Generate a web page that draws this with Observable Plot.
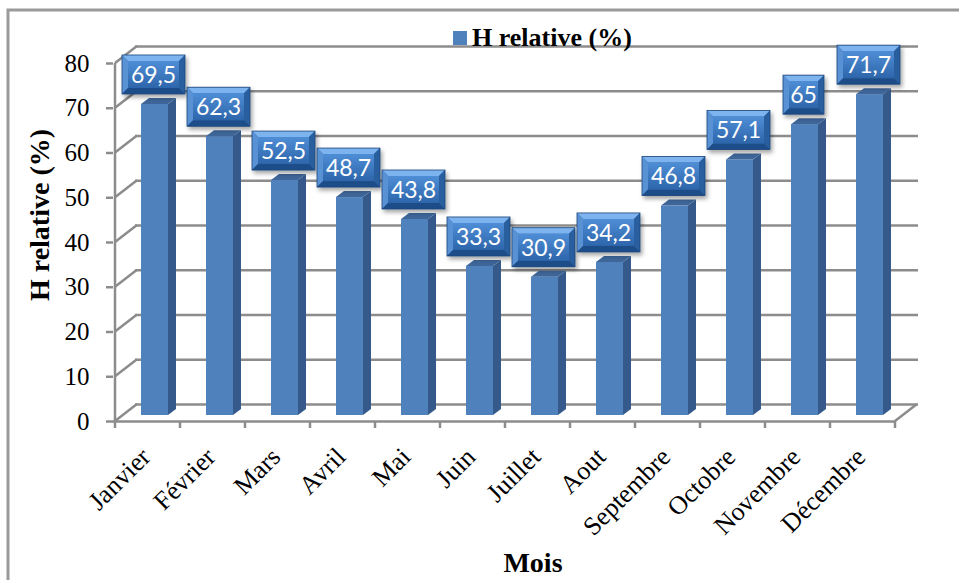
<!DOCTYPE html>
<html><head><meta charset="utf-8">
<script src="https://cdn.jsdelivr.net/npm/d3@7"></script>
<script src="https://cdn.jsdelivr.net/npm/@observablehq/plot@0.6"></script>
<style>body{margin:0;background:#fff} svg{display:block}</style>
</head><body><div id="chart"></div>
<script>
const months = ["Janvier","Février","Mars","Avril","Mai","Juin","Juillet","Aout","Septembre","Octobre","Novembre","Décembre"];
const humidity = [69.5,62.3,52.5,48.7,43.8,33.3,30.9,34.2,46.8,57.1,65,71.7];
const valueLabels = ["69,5","62,3","52,5","48,7","43,8","33,3","30,9","34,2","46,8","57,1","65","71,7"];
const yTicks = [0,10,20,30,40,50,60,70,80];
const seriesName = "H relative (%)";
const xTitle = "Mois";
const yTitle = "H relative (%)";

const data = months.map((m,i)=>({month:m, value:humidity[i], label:valueLabels[i]}));

const BACK=[22,-17], PLANE=[7,-6], DEPTH=[8,-6];
const GRID="#8c8c8c", SERIF="Liberation Serif, Times New Roman, serif";
const FRONT="#4F81BD", SIDE="#34598A", TOP="#3E6699";

const plot = Plot.plot({
  width:959, height:580,
  marginLeft:113, marginRight:63, marginTop:63, marginBottom:159,
  style:{background:"#fff", overflow:"visible"},
  x:{type:"band", domain:months, padding:0, axis:null},
  y:{domain:[0,80], axis:null},
  marks:[
    Plot.ruleY(yTicks,{dx:BACK[0],dy:BACK[1],stroke:GRID,strokeWidth:2.5}),
    Plot.ruleY([0],{stroke:GRID,strokeWidth:2.5}),
    Plot.barY(data,{x:"month",y:"value",fill:FRONT,insetLeft:19,insetRight:19,dx:PLANE[0],dy:PLANE[1]}),
    Plot.axisY({ticks:yTicks, tickSize:7, tickPadding:17, stroke:GRID, strokeWidth:2.5, fill:"#000", fontSize:25, fontFamily:SERIF, tickFormat:d=>String(d), label:null}),
    Plot.text(data,{x:"month", frameAnchor:"bottom", text:"month", rotate:-45, textAnchor:"end", dx:4, dy:37, fontSize:26, fontFamily:SERIF, fill:"#000"})
  ]
});
document.getElementById("chart").appendChild(plot);

const svg = d3.select(plot);
const sx = plot.scale("x"), sy = plot.scale("y");
const X = v => sx.apply(v), Y = v => sy.apply(v);
const bw = sx.bandwidth;
const x0 = X(months[0]), x1 = X(months[months.length-1]) + bw;
const y0 = Y(0);

const defs = svg.append("defs");
const g2 = defs.append("linearGradient").attr("id","face").attr("x1",0).attr("y1",0).attr("x2",0).attr("y2",1);
g2.append("stop").attr("offset",0).attr("stop-color","#4f8ed6");
g2.append("stop").attr("offset",1).attr("stop-color","#2d65ab");
const f = defs.append("filter").attr("id","shadow").attr("x","-20%").attr("y","-20%").attr("width","150%").attr("height","160%");
f.append("feDropShadow").attr("dx",2).attr("dy",3).attr("stdDeviation",2).attr("flood-color","#000").attr("flood-opacity",0.35);

const axes = svg.append("g").attr("stroke",GRID).attr("stroke-width",2.5).attr("fill","none");
axes.append("line").attr("x1",x0).attr("x2",x0).attr("y1",Y(80)).attr("y2",y0);
yTicks.forEach(t=>axes.append("line").attr("x1",x0).attr("y1",Y(t)).attr("x2",x0+BACK[0]).attr("y2",Y(t)+BACK[1]));
axes.append("line").attr("x1",x1).attr("y1",y0).attr("x2",x1+BACK[0]).attr("y2",y0+BACK[1]);
d3.range(months.length+1).forEach(k=>{
  const xx = k<months.length ? X(months[k]) : x1;
  axes.append("line").attr("x1",xx).attr("x2",xx).attr("y1",y0).attr("y2",y0+7);
});

const bars = svg.append("g");
data.forEach(d=>{
  const xl = X(d.month)+19+PLANE[0], xr = X(d.month)+bw-19+PLANE[0];
  const yt = Y(d.value)+PLANE[1], yb = y0+PLANE[1];
  bars.append("polygon").attr("fill",SIDE)
    .attr("points",[[xr,yt],[xr+DEPTH[0],yt+DEPTH[1]],[xr+DEPTH[0],yb+DEPTH[1]],[xr,yb]].join(" "));
  bars.append("polygon").attr("fill",TOP)
    .attr("points",[[xl,yt],[xr,yt],[xr+DEPTH[0],yt+DEPTH[1]],[xl+DEPTH[0],yt+DEPTH[1]]].join(" "));
});

const labels = svg.append("g");
data.forEach(d=>{
  const cx = X(d.month)+bw/2+PLANE[0]-1;
  const yt = Y(d.value)+PLANE[1];
  const w = 11*d.label.length+19, h = 39, b = 6;
  const bx = cx-w/2, by = yt-10-h;
  const g = labels.append("g").attr("filter","url(#shadow)");
  g.append("rect").attr("x",bx).attr("y",by).attr("width",w).attr("height",h).attr("fill","#2f64a6");
  const P = (pts,c)=>g.append("polygon").attr("fill",c).attr("points",pts.map(p=>p.join(",")).join(" "));
  P([[bx,by],[bx+w,by],[bx+w-b,by+b],[bx+b,by+b]],"#7db3ee");
  P([[bx,by],[bx+b,by+b],[bx+b,by+h-b],[bx,by+h]],"#5891d4");
  P([[bx+w,by],[bx+w,by+h],[bx+w-b,by+h-b],[bx+w-b,by+b]],"#2b5e9f");
  P([[bx,by+h],[bx+b,by+h-b],[bx+w-b,by+h-b],[bx+w,by+h]],"#1f4d88");
  g.append("rect").attr("x",bx+b).attr("y",by+b).attr("width",w-2*b).attr("height",h-2*b).attr("fill","url(#face)");
  g.append("rect").attr("x",bx).attr("y",by).attr("width",w).attr("height",h).attr("fill","none").attr("stroke","#1d477c").attr("stroke-width",0.8);
  labels.append("text").attr("x",cx).attr("y",by+h/2).attr("dy","0.36em").attr("text-anchor","middle")
    .attr("fill","#fff").attr("font-family","Lato, Carlito, sans-serif").attr("font-size",23).text(d.label);
});

// legend
svg.append("rect").attr("x",453).attr("y",31).attr("width",14).attr("height",14).attr("fill",FRONT);
svg.append("text").attr("x",472).attr("y",46).attr("text-anchor","start").attr("font-family",SERIF).attr("font-weight","bold").attr("font-size",26).attr("fill","#000").text(seriesName);
// titles
svg.append("text").attr("transform","translate(49,215) rotate(-90)").attr("text-anchor","middle").attr("font-family",SERIF).attr("font-weight","bold").attr("font-size",28).attr("fill","#000").text(yTitle);
svg.append("text").attr("x",533).attr("y",572).attr("text-anchor","middle").attr("font-family",SERIF).attr("font-weight","bold").attr("font-size",28).attr("fill","#000").text(xTitle);
// frame
svg.append("path").attr("d","M8,580V10H959").attr("fill","none").attr("stroke","#9a9a9a").attr("stroke-width",3);
</script></body></html>
